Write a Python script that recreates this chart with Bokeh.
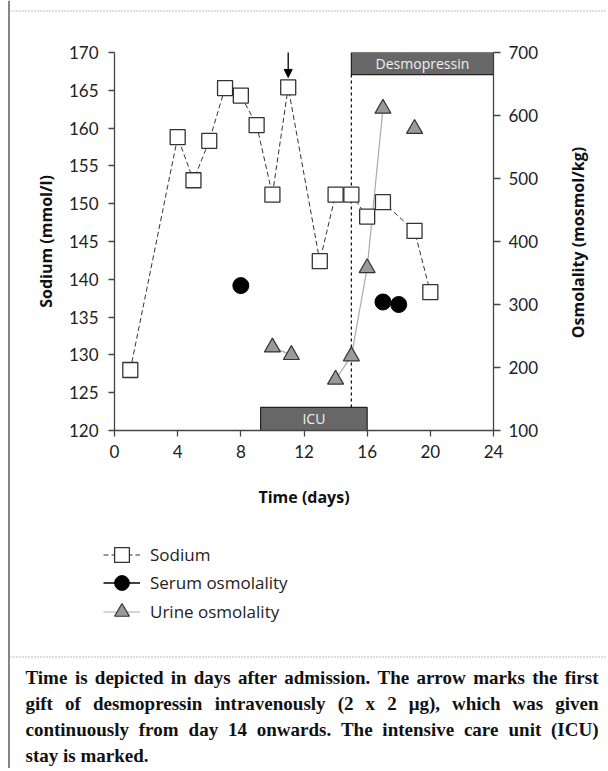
import math
from bokeh.plotting import figure
from bokeh.layouts import row, column
from bokeh.models import (Range1d, LinearAxis, FixedTicker, Label, Arrow, NormalHead,
                          Legend, LegendItem, Span)
from bokeh.embed import file_html
from bokeh.resources import INLINE

# ---------------- data ----------------
sodium_day = [1, 4, 5, 6, 7, 8, 9, 10, 11, 13, 14, 15, 16, 17, 19, 20]
sodium_mmol = [128.0, 158.8, 153.1, 158.3, 165.3, 164.3, 160.4, 151.2, 165.4,
               142.4, 151.2, 151.2, 148.3, 150.2, 146.4, 138.3]
serum_day = [8, 17, 18]
serum_osm = [330, 304, 300]
urine_day = [10, 11.2, 14, 15, 16, 17, 19]
urine_osm = [232, 220, 181, 218, 358, 611, 579]
urine_runs = [[0, 1], [2, 3, 4, 5]]
x_ticks = [0, 4, 8, 12, 16, 20, 24]
na_ticks = [120, 125, 130, 135, 140, 145, 150, 155, 160, 165, 170]
osm_ticks = [100, 200, 300, 400, 500, 600, 700]
icu_days = [9.25, 16]
desmo_days = [15, 24]
arrow_day = 11
legend_labels = ["Sodium", "Serum osmolality", "Urine osmolality"]
caption_lines = [
    "Time is depicted in days after admission. The arrow marks the first",
    "gift of desmopressin intravenously (2 x 2 \u03bcg), which was given",
    "continuously from day 14 onwards. The intensive care unit (ICU)",
    "stay is marked.",
]

# ---------------- styles ----------------
NA_LINE = dict(line_color="#333333", line_width=1, line_dash="5 3")
NA_MARK = dict(marker="square", fill_color="white", line_color="#333333", line_width=1.3)
SERUM_LINE = dict(line_color="black", line_width=1.5)
SERUM_MARK = dict(marker="circle", fill_color="black", line_color="black")
URINE_LINE = dict(line_color="#aaaaaa", line_width=1.2)
URINE_MARK = dict(marker="triangle", fill_color="#9a9a9a", line_color="#333333", line_width=1.2)
BAR = dict(fill_color="#676767", line_color="#222222", line_width=1.2)
AXIS_LABEL = dict(text_font="Open Sans", text_font_style="bold", text_font_size="16px",
                  text_color="#111111")

# ---------------- layout constants (window pixels) ----------------
TOTAL_W, TOTAL_H = 606, 768
LEFT_W = 10            # strip holding the page's left rule
TOP_H = 12             # strip holding the top dotted rule
MAIN_H = 508
BOT_H = TOTAL_H - TOP_H - MAIN_H
W2 = TOTAL_W - LEFT_W
MAIN_W = 536
RLAB_W = W2 - MAIN_W
FL, FT, FW, FH = 104, 40, 379, 378
NA0, NA1 = 120, 170
OS0, OS1 = 100, 700


def blank(width, height):
    f = figure(width=width, height=height, output_backend="svg", toolbar_location=None,
               x_range=Range1d(0, width), y_range=Range1d(height, 0),
               min_border=0, title=None, frame_align=False)
    f.axis.visible = False
    f.grid.visible = False
    f.outline_line_color = None
    f.border_fill_color = "white"
    f.background_fill_color = "white"
    return f


# left rule strip
p_left = blank(LEFT_W, TOTAL_H)
p_left.add_layout(Span(location=8.5, dimension="height", line_color="#666666", line_width=1.6))

# top dotted rule strip
p_top = blank(W2, TOP_H)
p_top.add_layout(Span(location=10.5, dimension="width", line_color="#777777",
                      line_width=1, line_dash="1 2"))

# ---------------- main chart ----------------
p = figure(width=MAIN_W, height=MAIN_H, output_backend="svg", toolbar_location=None,
           x_range=Range1d(0, 24), y_range=Range1d(NA0, NA1), title=None,
           frame_align=False,
           min_border_left=FL, min_border_right=MAIN_W - FL - FW,
           min_border_top=FT, min_border_bottom=MAIN_H - FT - FH)
p.extra_y_ranges = {"osm": Range1d(OS0, OS1)}
p.xgrid.visible = False
p.ygrid.visible = False
p.outline_line_color = None
p.background_fill_color = "white"
p.border_fill_color = "white"

right = LinearAxis(y_range_name="osm")
p.add_layout(right, "right")

p.xaxis.ticker = FixedTicker(ticks=x_ticks)
p.yaxis[0].ticker = FixedTicker(ticks=na_ticks)
right.ticker = FixedTicker(ticks=osm_ticks)

for ax in [p.xaxis[0], p.yaxis[0], right]:
    ax.axis_line_color = "#444444"
    ax.axis_line_width = 1.3
    ax.major_tick_line_color = "#444444"
    ax.major_tick_line_width = 1.3
    ax.major_tick_in = 0
    ax.major_tick_out = 6
    ax.minor_tick_line_color = None
    ax.major_label_text_font = "Lato"
    ax.major_label_text_font_size = "17px"
    ax.major_label_text_color = "#222222"
    ax.axis_label_text_font = AXIS_LABEL["text_font"]
    ax.axis_label_text_font_style = AXIS_LABEL["text_font_style"]
    ax.axis_label_text_font_size = AXIS_LABEL["text_font_size"]
    ax.axis_label_text_color = AXIS_LABEL["text_color"]

p.xaxis.major_label_standoff = 8
p.xaxis.axis_label = "Time (days)"
p.xaxis.axis_label_standoff = 25
p.yaxis[0].major_label_standoff = 10
p.yaxis[0].axis_label = "Sodium (mmol/l)"
p.yaxis[0].axis_label_standoff = 9
right.major_tick_out = 7
right.major_label_standoff = 8

# bars
desmo_bottom = 665
icu_top = 123.05
p.quad(left=[desmo_days[0]], right=[desmo_days[1]], bottom=[desmo_bottom], top=[OS1],
       y_range_name="osm", **BAR)
p.quad(left=[icu_days[0]], right=[icu_days[1]], bottom=[NA0], top=[icu_top], **BAR)
p.add_layout(Label(x=sum(desmo_days) / 2, y=(desmo_bottom + OS1) / 2, y_range_name="osm",
                   text="Desmopressin", text_align="center", text_baseline="middle",
                   text_color="#f0f0f0", text_font="Open Sans", text_font_size="14px"))
p.add_layout(Label(x=sum(icu_days) / 2, y=(NA0 + icu_top) / 2,
                   text="ICU", text_align="center", text_baseline="middle",
                   text_color="#f0f0f0", text_font="Open Sans", text_font_size="14px"))

desmo_bottom_na = NA0 + (desmo_bottom - OS0) / (OS1 - OS0) * (NA1 - NA0)
p.segment(x0=[desmo_days[0]], y0=[icu_top], x1=[desmo_days[0]], y1=[desmo_bottom_na],
          line_color="#111111", line_width=1.3, line_dash="3 3")

# series
p.line(sodium_day, sodium_mmol, **NA_LINE)
for run in urine_runs:
    p.line([urine_day[i] for i in run], [urine_osm[i] for i in run],
           y_range_name="osm", **URINE_LINE)
p.scatter(sodium_day, sodium_mmol, size=15, **NA_MARK)
p.scatter(serum_day, serum_osm, size=16, y_range_name="osm", **SERUM_MARK)
p.scatter(urine_day, urine_osm, size=16, y_range_name="osm", **URINE_MARK)

p.add_layout(Arrow(end=NormalHead(size=8, fill_color="black", line_color="black"),
                   x_start=arrow_day, y_start=170.6, x_end=arrow_day, y_end=166.7,
                   line_color="black", line_width=1.3))

# right axis title in its own strip (reads bottom-to-top)
p_rlab = blank(RLAB_W, MAIN_H)
p_rlab.add_layout(Label(x=577 - LEFT_W - MAIN_W, y=242 - TOP_H,
                        text="Osmolality (mosmol/kg)", angle=math.pi / 2,
                        text_align="center", text_baseline="middle", **AXIS_LABEL))

# ---------------- legend + caption ----------------
p_bot = blank(W2, BOT_H)
Y0 = TOP_H + MAIN_H          # window y of this strip's top


def wx(x):
    return x - LEFT_W


def wy(y):
    return y - Y0


# legend-only renderers, their single point lies outside this strip's ranges
OFF = [-50, -40]
leg_pairs = [
    (p_bot.line(x=OFF, y=OFF, **NA_LINE), p_bot.scatter(x=OFF, y=OFF, **NA_MARK)),
    (p_bot.line(x=OFF, y=OFF, **SERUM_LINE), p_bot.scatter(x=OFF, y=OFF, **SERUM_MARK)),
    (p_bot.line(x=OFF, y=OFF, **URINE_LINE), p_bot.scatter(x=OFF, y=OFF, **URINE_MARK)),
]
row_centres = [554, 582, 611]
GLYPH = 37
for lab, (rl, rm), yc in zip(legend_labels, leg_pairs, row_centres):
    lg = Legend(items=[LegendItem(label=lab, renderers=[rl, rm])],
                location=(wx(103), BOT_H - (wy(yc) + GLYPH / 2)),
                border_line_color=None, background_fill_alpha=0, padding=0, margin=0,
                glyph_width=GLYPH, glyph_height=GLYPH, label_height=20, label_standoff=10,
                label_text_font="Open Sans", label_text_font_size="17px",
                label_text_color="#222222", label_text_baseline="middle")
    p_bot.add_layout(lg)

p_bot.add_layout(Span(location=wy(656.5), dimension="width", line_color="#777777",
                      line_width=1, line_dash="1 2"))

TB = {' ': 250, '(': 333, ')': 333, ',': 250, '.': 250, '-': 333,
      'A': 722, 'C': 722, 'I': 389, 'T': 667, 'U': 722,
      'a': 500, 'b': 556, 'c': 444, 'd': 556, 'e': 444, 'f': 333, 'g': 500, 'h': 556,
      'i': 278, 'j': 333, 'k': 556, 'l': 278, 'm': 833, 'n': 556, 'o': 500, 'p': 556,
      'q': 556, 'r': 444, 's': 389, 't': 333, 'u': 556, 'v': 500, 'w': 722, 'x': 500,
      'y': 500, 'z': 444, '\u03bc': 556}
CAP_SIZE = 19
CAP_L, CAP_R = 25, 598
CAP_BASE0, CAP_STEP = 677, 26


def tw(s):
    return sum(TB.get(c, 500) for c in s) * CAP_SIZE / 1000.0


def cap_label(text, x, y):
    return Label(x=wx(x), y=wy(y), text=text, text_baseline="alphabetic",
                 text_font="Liberation Serif", text_font_style="bold",
                 text_font_size=f"{CAP_SIZE}px", text_color="#111111")


for li, line in enumerate(caption_lines):
    ybase = CAP_BASE0 + li * CAP_STEP
    words = line.split(" ")
    if li < len(caption_lines) - 1:
        gap = (CAP_R - CAP_L - sum(tw(w) for w in words)) / (len(words) - 1)
        x = CAP_L
        for w in words:
            p_bot.add_layout(cap_label(w, x, ybase))
            x += tw(w) + gap
    else:
        p_bot.add_layout(cap_label(line, CAP_L, ybase))

layout = row(p_left, column(p_top, row(p, p_rlab, spacing=0), p_bot, spacing=0), spacing=0)
open("out.html", "w").write(file_html(layout, INLINE))
